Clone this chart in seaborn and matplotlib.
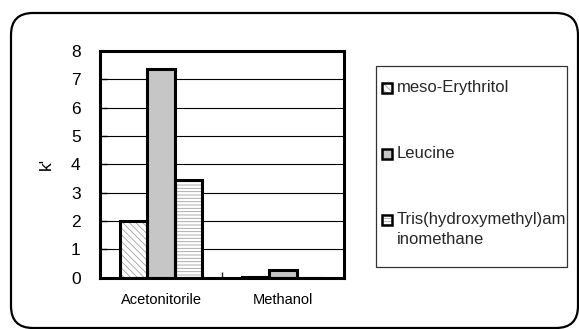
import pandas as pd
import seaborn as sns
import matplotlib.pyplot as plt
from matplotlib.patches import Rectangle, FancyBboxPatch

solvents = ["Acetonitorile", "Methanol"]
compounds = ["meso-Erythritol", "Leucine", "Tris(hydroxymethyl)aminomethane"]
legend_labels = ["meso-Erythritol", "Leucine", "Tris(hydroxymethyl)am\ninomethane"]
meso = [2.0, 0.04]
leucine = [7.35, 0.28]
tris = [3.45, 0.0]

faces = ["white", "#c6c6c6", "white"]
hatches = ["\\\\\\\\\\", "", "-----"]


def style_bar(p, i, lw):
    # hatch takes the edge colour, so the fill gets a grey edge and a black
    # outline is laid over it
    p.set_facecolor(faces[i])
    p.set_hatch(hatches[i])
    p.set_edgecolor("#a0a0a0")
    p.set_linewidth(0)
    outline = Rectangle(p.get_xy(), p.get_width(), p.get_height(),
                        transform=p.get_data_transform(), fill=False,
                        edgecolor="black", lw=lw, zorder=p.get_zorder() + 0.1)
    return outline


def plot(df):
    sns.set_theme(style="white")
    plt.rcParams["font.family"] = ["Liberation Sans", "DejaVu Sans"]
    plt.rcParams["hatch.linewidth"] = 0.6

    fig = plt.figure(figsize=(5.79, 3.29), dpi=100)
    ax = fig.add_axes([0.1727, 0.156, 0.4214, 0.689])

    sns.barplot(data=df, x="solvent", y="k", hue="compound", hue_order=compounds,
                palette=faces, saturation=1, edgecolor="black", linewidth=2,
                width=0.68, legend=False, ax=ax)
    for i, cont in enumerate(ax.containers):
        for p in list(cont):
            ax.add_patch(style_bar(p, i, 2.2))

    ax.set_ylim(0, 8)
    ax.set_xlim(-0.5, 1.5)
    ax.set_yticks(range(0, 9))
    ax.set_axisbelow(True)
    ax.yaxis.grid(True, color="black", lw=0.8)
    for s in ax.spines.values():
        s.set_visible(True)
        s.set_color("black")
        s.set_linewidth(2.2)
        s.set_zorder(5)
    ax.tick_params(axis="y", direction="in", length=5, width=1, pad=14,
                   labelsize=12.5, left=True, colors="black")
    ax.tick_params(axis="x", length=0, pad=11, labelsize=10.5, colors="black")
    ax.set_xticks([0.5], minor=True)
    ax.tick_params(axis="x", which="minor", direction="in", length=4, width=1,
                   bottom=True)
    ax.set_xlabel("")
    ax.set_ylabel("k'", fontsize=12.5, color="black")
    ax.yaxis.set_label_coords(-0.19, 0.5)

    # legend box
    fig.add_artist(Rectangle((376 / 579, 1 - 267 / 329), 191 / 579, 201 / 329,
                             transform=fig.transFigure, fill=False,
                             edgecolor="#333333", lw=0.9))
    ys = [88, 154, 220]
    for i, lab in enumerate(legend_labels):
        yc = 1 - ys[i] / 329
        r = Rectangle((382 / 579, yc - 5 / 329), 10 / 579, 10 / 329,
                      transform=fig.transFigure)
        outline = style_bar(r, i, 1.8)
        fig.add_artist(r)
        fig.add_artist(outline)
        fig.text(397 / 579, yc + 8 / 329, lab, fontsize=12, va="top", ha="left",
                 linespacing=1.4)

    # outer rounded border
    fig.add_artist(FancyBboxPatch((11, 1), 567, 315, transform=None,
                                  boxstyle="round,pad=0,rounding_size=22",
                                  fill=False, edgecolor="black", lw=1.6))

    fig.savefig("out.png", dpi=100)


def main():
    rows = []
    for comp, vals in zip(compounds, [meso, leucine, tris]):
        for solv, v in zip(solvents, vals):
            rows.append([solv, comp, v])
    df = pd.DataFrame(rows, columns=["solvent", "compound", "k"])
    plot(df)


if __name__ == "__main__":
    main()
